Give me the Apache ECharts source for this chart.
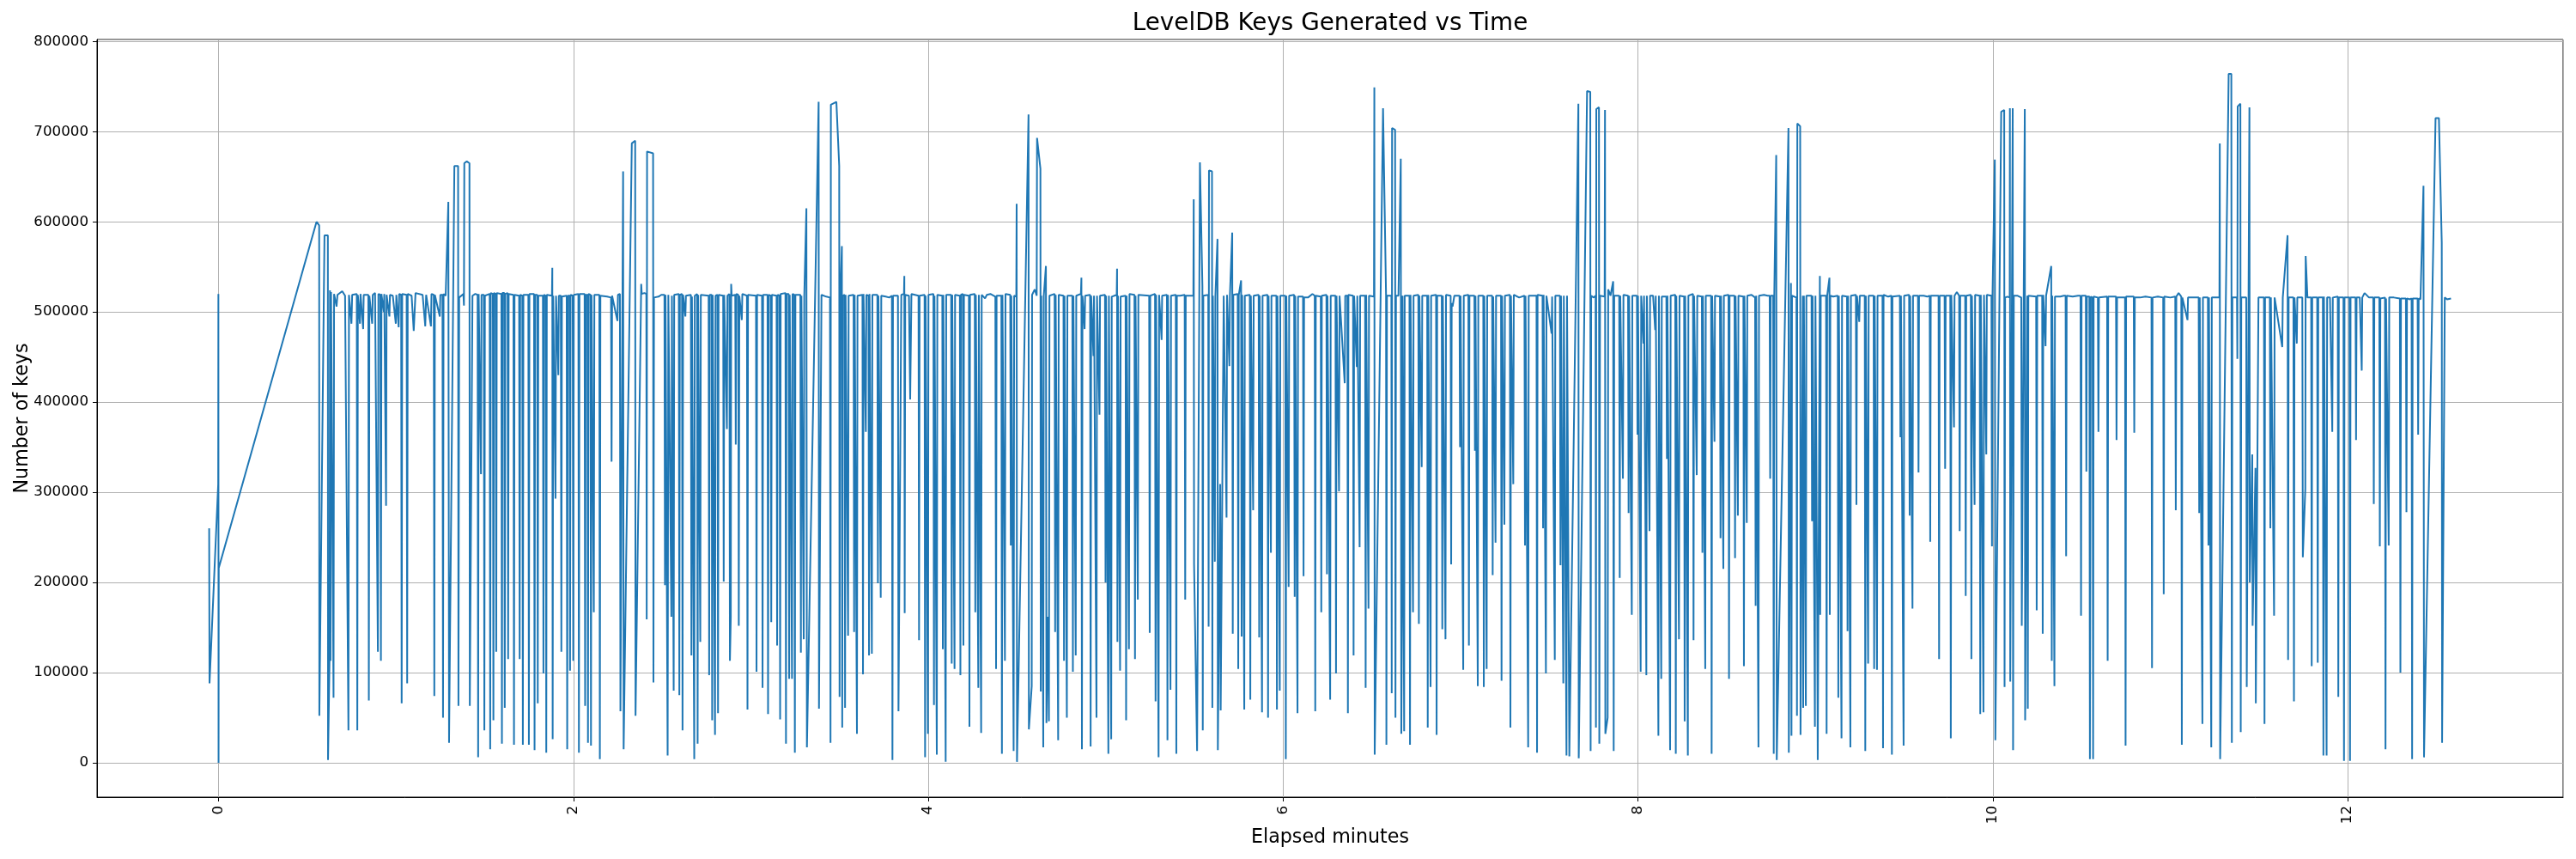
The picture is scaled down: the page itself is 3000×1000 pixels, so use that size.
<!DOCTYPE html>
<html><head><meta charset="utf-8">
<script src="https://cdn.jsdelivr.net/npm/echarts@6/dist/echarts.min.js"></script>
<style>html,body{margin:0;padding:0;background:#fff}#c{width:3000px;height:1000px}</style>
</head><body><div id="c"></div>
<script>
// Each pair: [elapsed minutes, number of keys]
const seg1 = [[-0.053,260000],[-0.051,88000],[-0.002,309000],[-0.001,520000],[0.000,0],[0.001,216000],[0.552,600000],[0.567,596000],[0.568,52000],[0.597,585000],[0.616,585000],[0.617,3000],[0.626,123000],[0.628,524000],[0.631,113000],[0.634,522000],[0.648,72000],[0.651,520000],[0.665,506000],[0.670,519000],[0.697,523000],[0.713,518000],[0.732,36000],[0.735,519000],[0.749,487000],[0.753,519000],[0.779,520000],[0.782,36000],[0.785,519000],[0.797,487000],[0.800,520000],[0.815,481000],[0.818,519000],[0.844,519000],[0.847,69000],[0.850,518000],[0.866,487000],[0.869,519000],[0.882,521000],[0.898,123000],[0.901,520000],[0.912,519000],[0.915,113000],[0.918,520000],[0.931,500000],[0.934,520000],[0.944,285000],[0.947,519000]];
const seg2 = [[0.963,495000],[0.966,519000],[0.982,518000],[0.999,487000],[1.002,519000],[1.015,483000],[1.018,520000],[1.029,519000],[1.032,66000],[1.035,520000],[1.060,519000],[1.063,88000],[1.066,520000],[1.088,518000],[1.100,479000],[1.110,521000],[1.150,519000],[1.165,484000],[1.170,519000],[1.197,484000],[1.200,520000],[1.213,519000],[1.216,74000],[1.219,519000],[1.247,495000],[1.250,519000],[1.262,519000],[1.265,50000],[1.268,520000],[1.280,518000],[1.295,622000],[1.299,22000],[1.329,662000],[1.350,662000],[1.352,63000],[1.356,516000],[1.380,520000],[1.383,507000],[1.385,665000],[1.399,667000],[1.414,665000],[1.416,63000],[1.431,518000],[1.447,520000],[1.460,519000],[1.463,6000],[1.466,520000],[1.479,320000],[1.482,519000],[1.495,519000],[1.498,36000],[1.501,518000],[1.528,520000],[1.531,15000],[1.534,521000],[1.546,520000],[1.549,47000],[1.552,521000],[1.562,520000],[1.565,123000],[1.568,521000],[1.594,520000],[1.597,21000],[1.600,521000],[1.610,521000],[1.613,61000],[1.616,520000],[1.629,521000],[1.632,115000],[1.635,520000],[1.662,519000],[1.665,20000],[1.668,519000],[1.694,518000],[1.697,115000],[1.700,519000],[1.712,518000],[1.715,20000],[1.718,519000],[1.746,519000],[1.749,20000],[1.752,520000],[1.778,520000],[1.781,14000],[1.784,519000],[1.796,519000],[1.799,66000],[1.802,518000],[1.828,518000],[1.831,99000],[1.834,519000],[1.844,518000],[1.847,11000],[1.850,519000],[1.879,518000],[1.881,549000],[1.883,26000],[1.886,518000],[1.899,293000],[1.902,518000],[1.915,430000],[1.918,518000],[1.929,518000],[1.932,123000],[1.935,517000],[1.962,518000],[1.965,15000],[1.968,518000],[1.978,518000],[1.981,102000],[1.984,519000],[1.996,518000],[1.999,113000],[2.002,519000]];
const seg3 = [[2.028,520000],[2.031,11000],[2.034,520000],[2.063,520000],[2.066,63000],[2.069,519000],[2.079,519000],[2.082,22000],[2.085,520000],[2.096,519000],[2.099,19000],[2.102,519000],[2.115,167000],[2.118,519000],[2.146,519000],[2.149,4000],[2.152,518000],[2.190,517000],[2.212,516000],[2.215,334000],[2.218,518000],[2.248,490000],[2.251,519000],[2.262,520000],[2.265,57000],[2.280,656000],[2.283,15000],[2.329,687000],[2.348,690000],[2.350,52000],[2.382,531000],[2.385,520000],[2.400,521000],[2.411,520000],[2.413,159000],[2.415,678000],[2.449,676000],[2.451,89000],[2.454,516000],[2.480,517000],[2.495,519000],[2.513,519000],[2.516,197000],[2.519,519000],[2.528,519000],[2.531,8000],[2.535,519000],[2.552,162000],[2.555,518000],[2.562,519000],[2.565,80000],[2.568,519000],[2.594,520000],[2.597,75000],[2.600,519000],[2.612,520000],[2.615,36000],[2.618,519000],[2.631,495000],[2.634,518000],[2.662,519000],[2.665,119000],[2.668,517000],[2.681,4000],[2.684,518000],[2.697,520000],[2.700,21000],[2.703,519000],[2.715,134000],[2.718,519000],[2.762,518000],[2.765,97000],[2.768,519000],[2.779,519000],[2.782,47000],[2.785,519000],[2.798,31000],[2.801,518000],[2.812,519000],[2.815,55000],[2.818,519000],[2.844,518000],[2.847,201000],[2.850,519000],[2.865,370000],[2.868,518000],[2.879,520000],[2.882,113000],[2.887,162000],[2.889,531000],[2.892,518000],[2.912,519000],[2.915,353000],[2.918,520000],[2.929,519000],[2.932,152000],[2.935,518000],[2.949,491000],[2.952,520000],[2.978,518000],[2.981,59000],[2.984,519000],[3.029,518000],[3.032,101000],[3.035,519000],[3.063,518000],[3.066,83000],[3.069,519000]];
const seg4 = [[3.094,519000],[3.097,54000],[3.100,519000],[3.112,518000],[3.115,156000],[3.118,519000],[3.145,518000],[3.148,130000],[3.151,519000],[3.162,518000],[3.165,48000],[3.168,520000],[3.195,521000],[3.198,21000],[3.201,520000],[3.213,520000],[3.216,93000],[3.219,519000],[3.232,93000],[3.235,520000],[3.245,519000],[3.248,11000],[3.251,519000],[3.279,519000],[3.282,122000],[3.285,518000],[3.298,137000],[3.301,517000],[3.313,615000],[3.316,17000],[3.382,733000],[3.384,60000],[3.398,519000],[3.425,517000],[3.446,516000],[3.449,22000],[3.451,730000],[3.482,733000],[3.498,662000],[3.500,73000],[3.504,516000],[3.513,573000],[3.515,39000],[3.518,518000],[3.528,519000],[3.531,61000],[3.534,519000],[3.548,141000],[3.551,518000],[3.579,519000],[3.582,145000],[3.585,519000],[3.598,32000],[3.601,518000],[3.629,519000],[3.632,98000],[3.635,520000],[3.648,367000],[3.651,519000],[3.663,518000],[3.666,119000],[3.669,520000],[3.682,121000],[3.685,519000],[3.713,519000],[3.716,199000],[3.719,518000],[3.732,183000],[3.735,518000],[3.760,517000],[3.780,516000],[3.795,518000],[3.798,3000],[3.801,518000],[3.829,518000],[3.832,57000],[3.848,519000],[3.863,520000],[3.865,540000],[3.867,166000],[3.870,519000],[3.891,518000],[3.898,403000],[3.905,520000],[3.945,518000],[3.948,136000],[3.951,518000],[3.979,519000],[3.982,6000],[3.985,518000],[3.998,32000],[4.001,519000],[4.029,520000],[4.032,64000],[4.035,518000],[4.048,9000],[4.051,519000],[4.079,518000],[4.082,126000],[4.085,519000],[4.098,1000],[4.101,519000],[4.129,519000],[4.132,110000],[4.135,519000]];
const seg5 = [[4.148,104000],[4.151,519000],[4.178,518000],[4.181,97000],[4.184,519000],[4.195,520000],[4.198,130000],[4.201,519000],[4.229,518000],[4.232,40000],[4.235,519000],[4.262,520000],[4.265,167000],[4.268,519000],[4.282,83000],[4.285,519000],[4.298,33000],[4.301,519000],[4.320,515000],[4.330,519000],[4.350,520000],[4.378,517000],[4.382,104000],[4.385,518000],[4.412,518000],[4.415,10000],[4.418,519000],[4.432,113000],[4.435,520000],[4.462,519000],[4.465,241000],[4.468,518000],[4.481,13000],[4.484,518000],[4.496,517000],[4.498,620000],[4.500,1000],[4.565,719000],[4.567,37000],[4.583,85000],[4.585,519000],[4.600,525000],[4.611,518000],[4.613,693000],[4.632,659000],[4.634,79000],[4.637,518000],[4.648,17000],[4.651,518000],[4.663,551000],[4.666,44000],[4.673,162000],[4.680,46000],[4.683,518000],[4.712,520000],[4.715,145000],[4.718,519000],[4.732,25000],[4.735,519000],[4.762,518000],[4.765,113000],[4.768,518000],[4.781,50000],[4.784,518000],[4.812,518000],[4.815,101000],[4.818,518000],[4.831,119000],[4.834,518000],[4.860,520000],[4.863,538000],[4.866,15000],[4.869,518000],[4.881,481000],[4.884,518000],[4.912,519000],[4.915,18000],[4.918,518000],[4.931,451000],[4.934,518000],[4.948,50000],[4.951,518000],[4.965,386000],[4.968,518000],[4.996,519000],[4.999,200000],[5.002,518000],[5.015,10000],[5.018,518000],[5.031,26000],[5.034,517000],[5.062,519000],[5.064,548000],[5.066,134000],[5.069,518000],[5.081,102000],[5.084,517000],[5.112,518000],[5.115,47000],[5.118,518000],[5.131,126000],[5.134,520000],[5.162,519000],[5.165,115000],[5.168,518000],[5.181,181000],[5.184,519000]];
const seg6 = [[5.245,518000],[5.248,144000],[5.251,518000],[5.278,520000],[5.281,68000],[5.284,519000],[5.298,6000],[5.301,519000],[5.315,469000],[5.318,518000],[5.345,519000],[5.348,25000],[5.351,519000],[5.365,81000],[5.368,518000],[5.395,519000],[5.398,10000],[5.401,518000],[5.420,518000],[5.445,519000],[5.448,181000],[5.451,518000],[5.494,518000],[5.496,625000],[5.498,220000],[5.515,13000],[5.531,666000],[5.545,528000],[5.547,36000],[5.550,518000],[5.578,519000],[5.580,151000],[5.582,657000],[5.599,656000],[5.601,61000],[5.604,518000],[5.615,223000],[5.618,517000],[5.630,581000],[5.632,14000],[5.645,309000],[5.648,58000],[5.665,518000],[5.681,272000],[5.684,519000],[5.697,440000],[5.700,518000],[5.713,588000],[5.716,143000],[5.719,519000],[5.744,520000],[5.747,104000],[5.750,519000],[5.763,535000],[5.766,140000],[5.769,519000],[5.781,59000],[5.784,518000],[5.812,519000],[5.815,70000],[5.818,518000],[5.831,280000],[5.834,518000],[5.862,519000],[5.865,139000],[5.868,518000],[5.881,56000],[5.884,518000],[5.912,519000],[5.915,50000],[5.918,518000],[5.931,233000],[5.934,518000],[5.962,518000],[5.965,59000],[5.968,518000],[5.981,80000],[5.984,518000],[6.012,518000],[6.015,4000],[6.018,518000],[6.031,195000],[6.034,518000],[6.062,519000],[6.065,184000],[6.068,518000],[6.081,55000],[6.084,517000],[6.112,517000],[6.115,207000],[6.118,516000],[6.140,516000],[6.165,520000],[6.178,518000],[6.181,57000],[6.184,518000],[6.212,517000],[6.215,167000],[6.218,518000],[6.244,519000],[6.247,209000],[6.250,518000],[6.265,70000],[6.268,518000]];
const seg7 = [[6.295,518000],[6.298,99000],[6.301,518000],[6.315,301000],[6.318,518000],[6.347,421000],[6.350,518000],[6.362,518000],[6.365,55000],[6.368,519000],[6.394,518000],[6.397,119000],[6.400,518000],[6.415,439000],[6.418,518000],[6.431,239000],[6.434,518000],[6.462,518000],[6.465,83000],[6.468,519000],[6.481,171000],[6.484,518000],[6.512,517000],[6.514,749000],[6.516,9000],[6.563,726000],[6.580,519000],[6.582,20000],[6.585,518000],[6.610,518000],[6.612,77000],[6.614,704000],[6.631,702000],[6.633,50000],[6.636,518000],[6.650,518000],[6.663,670000],[6.666,32000],[6.670,167000],[6.673,518000],[6.679,518000],[6.682,35000],[6.685,518000],[6.712,518000],[6.715,20000],[6.718,519000],[6.732,167000],[6.735,518000],[6.762,519000],[6.765,154000],[6.768,518000],[6.781,328000],[6.784,518000],[6.812,518000],[6.815,39000],[6.818,519000],[6.831,84000],[6.834,518000],[6.862,519000],[6.865,31000],[6.868,518000],[6.894,518000],[6.897,148000],[6.900,518000],[6.915,137000],[6.918,519000],[6.944,518000],[6.947,220000],[6.950,510000],[6.955,506000],[6.965,518000],[6.994,518000],[6.997,350000],[7.000,518000],[7.015,103000],[7.018,518000],[7.044,519000],[7.047,130000],[7.050,518000],[7.078,518000],[7.081,346000],[7.084,518000],[7.097,85000],[7.100,518000],[7.128,518000],[7.131,84000],[7.134,518000],[7.147,104000],[7.150,518000],[7.178,518000],[7.181,208000],[7.184,517000],[7.197,244000],[7.200,518000],[7.228,518000],[7.231,91000],[7.234,518000],[7.247,264000],[7.250,518000],[7.278,519000],[7.281,39000],[7.284,518000],[7.297,309000],[7.300,519000],[7.330,516000]];
const seg8 = [[7.360,518000],[7.363,241000],[7.366,518000],[7.381,17000],[7.384,518000],[7.428,518000],[7.431,11000],[7.434,519000],[7.462,518000],[7.465,260000],[7.468,519000],[7.481,99000],[7.484,518000],[7.513,476000],[7.516,517000],[7.531,114000],[7.534,518000],[7.560,518000],[7.563,219000],[7.566,518000],[7.579,88000],[7.582,518000],[7.597,8000],[7.600,518000],[7.613,7000],[7.664,731000],[7.666,5000],[7.713,745000],[7.731,744000],[7.733,13000],[7.736,518000],[7.750,516000],[7.761,518000],[7.763,39000],[7.765,725000],[7.780,727000],[7.782,21000],[7.786,518000],[7.812,517000],[7.814,724000],[7.816,32000],[7.829,50000],[7.832,525000],[7.845,518000],[7.860,534000],[7.863,13000],[7.866,518000],[7.894,518000],[7.897,205000],[7.900,518000],[7.915,315000],[7.918,519000],[7.944,518000],[7.947,277000],[7.950,518000],[7.965,164000],[7.968,518000],[7.994,518000],[7.997,364000],[8.000,518000],[8.015,101000],[8.018,518000],[8.031,465000],[8.034,518000],[8.047,97000],[8.050,518000],[8.065,257000],[8.068,518000],[8.085,518000],[8.097,480000],[8.100,518000],[8.115,30000],[8.118,518000],[8.131,93000],[8.134,517000],[8.160,517000],[8.163,337000],[8.166,518000],[8.181,14000],[8.184,518000],[8.210,519000],[8.213,10000],[8.216,518000],[8.231,137000],[8.234,518000],[8.260,517000],[8.263,46000],[8.266,518000],[8.281,8000],[8.284,518000],[8.310,520000],[8.313,136000],[8.316,518000],[8.331,319000],[8.334,518000],[8.360,517000],[8.363,233000],[8.366,518000],[8.379,104000],[8.382,518000]];
const seg9 = [[8.412,518000],[8.415,10000],[8.418,518000],[8.431,356000],[8.434,518000],[8.462,517000],[8.465,249000],[8.468,518000],[8.481,215000],[8.484,518000],[8.510,519000],[8.513,93000],[8.516,518000],[8.544,518000],[8.547,227000],[8.550,518000],[8.563,274000],[8.566,518000],[8.594,517000],[8.597,107000],[8.600,518000],[8.613,266000],[8.616,518000],[8.640,519000],[8.660,516000],[8.663,174000],[8.666,518000],[8.679,17000],[8.682,518000],[8.710,519000],[8.730,518000],[8.742,518000],[8.745,315000],[8.748,518000],[8.762,518000],[8.765,10000],[8.768,518000],[8.779,674000],[8.782,3000],[8.848,704000],[8.850,11000],[8.862,532000],[8.865,30000],[8.868,518000],[8.893,516000],[8.896,52000],[8.898,709000],[8.914,706000],[8.916,31000],[8.929,518000],[8.931,61000],[8.935,518000],[8.946,63000],[8.949,518000],[8.978,518000],[8.981,268000],[8.984,518000],[8.997,40000],[9.000,518000],[9.008,518000],[9.010,164000],[9.013,3000],[9.025,540000],[9.027,164000],[9.030,518000],[9.060,518000],[9.063,32000],[9.066,518000],[9.079,538000],[9.081,164000],[9.084,518000],[9.100,517000],[9.126,518000],[9.129,72000],[9.132,518000],[9.147,27000],[9.150,518000],[9.178,517000],[9.181,146000],[9.184,518000],[9.197,17000],[9.200,518000],[9.228,519000],[9.231,286000],[9.234,518000],[9.247,489000],[9.250,518000],[9.278,518000],[9.281,13000],[9.284,518000],[9.297,110000],[9.300,518000],[9.328,518000],[9.331,104000],[9.334,518000],[9.347,103000],[9.350,518000],[9.378,518000],[9.381,16000],[9.384,519000],[9.410,517000],[9.428,518000],[9.431,9000],[9.434,517000]];
const seg10 = [[9.476,518000],[9.479,361000],[9.482,518000],[9.497,19000],[9.500,518000],[9.528,519000],[9.531,274000],[9.534,518000],[9.547,171000],[9.550,518000],[9.578,518000],[9.581,322000],[9.584,518000],[9.610,518000],[9.630,517000],[9.644,518000],[9.647,245000],[9.650,518000],[9.680,518000],[9.694,518000],[9.697,115000],[9.700,518000],[9.728,518000],[9.731,326000],[9.734,518000],[9.760,518000],[9.763,27000],[9.766,519000],[9.781,372000],[9.784,518000],[9.797,522000],[9.810,518000],[9.813,257000],[9.816,518000],[9.844,518000],[9.847,185000],[9.850,518000],[9.876,519000],[9.879,115000],[9.882,518000],[9.897,286000],[9.900,519000],[9.926,518000],[9.929,54000],[9.932,519000],[9.947,56000],[9.950,519000],[9.963,342000],[9.966,519000],[9.992,518000],[9.995,240000],[9.998,519000],[10.011,669000],[10.014,25000],[10.047,722000],[10.064,724000],[10.066,84000],[10.069,516000],[10.082,517000],[10.095,516000],[10.096,726000],[10.098,90000],[10.112,726000],[10.114,14000],[10.118,518000],[10.140,518000],[10.160,516000],[10.163,152000],[10.180,725000],[10.182,47000],[10.194,518000],[10.197,60000],[10.200,518000],[10.244,517000],[10.247,169000],[10.250,518000],[10.278,518000],[10.281,143000],[10.284,519000],[10.297,462000],[10.300,518000],[10.329,551000],[10.332,113000],[10.335,518000],[10.347,85000],[10.350,517000],[10.380,517000],[10.400,518000],[10.410,518000],[10.413,229000],[10.416,518000],[10.450,517000],[10.480,518000],[10.494,518000],[10.497,163000],[10.500,518000],[10.524,518000],[10.527,323000],[10.530,517000]];
const seg11 = [[10.544,517000],[10.547,4000],[10.552,517000],[10.562,516000],[10.565,4000],[10.568,517000],[10.592,516000],[10.595,367000],[10.598,516000],[10.644,517000],[10.647,113000],[10.650,517000],[10.694,517000],[10.697,358000],[10.700,516000],[10.745,516000],[10.748,19000],[10.751,517000],[10.794,517000],[10.797,366000],[10.800,516000],[10.830,516000],[10.860,517000],[10.894,516000],[10.897,105000],[10.900,516000],[10.930,517000],[10.960,516000],[10.963,187000],[10.966,517000],[11.000,516000],[11.028,517000],[11.031,280000],[11.034,517000],[11.047,521000],[11.062,517000],[11.065,20000],[11.068,516000],[11.097,491000],[11.100,516000],[11.130,516000],[11.160,516000],[11.163,277000],[11.166,516000],[11.181,43000],[11.184,516000],[11.212,516000],[11.215,241000],[11.218,516000],[11.231,17000],[11.234,516000],[11.260,516000],[11.277,516000],[11.279,687000],[11.281,4000],[11.329,764000],[11.344,764000],[11.347,22000],[11.350,516000],[11.376,516000],[11.378,448000],[11.380,728000],[11.395,731000],[11.397,34000],[11.400,516000],[11.428,516000],[11.431,84000],[11.446,727000],[11.448,200000],[11.462,342000],[11.464,152000],[11.480,327000],[11.482,66000],[11.497,516000],[11.528,516000],[11.531,43000],[11.534,516000],[11.561,516000],[11.564,260000],[11.567,516000],[11.585,163000],[11.588,516000]];
const seg12 = [[11.631,461000],[11.634,516000],[11.661,585000],[11.664,114000],[11.667,516000],[11.694,516000],[11.697,68000],[11.700,516000],[11.713,465000],[11.716,516000],[11.744,516000],[11.747,228000],[11.761,304000],[11.763,562000],[11.773,516000],[11.794,516000],[11.797,107000],[11.800,516000],[11.828,516000],[11.831,111000],[11.834,516000],[11.860,516000],[11.863,8000],[11.866,517000],[11.881,8000],[11.884,516000],[11.900,516000],[11.913,367000],[11.916,516000],[11.944,517000],[11.947,73000],[11.950,516000],[11.976,516000],[11.979,2000],[11.982,516000],[12.010,516000],[12.013,2000],[12.016,516000],[12.044,516000],[12.047,358000],[12.050,516000],[12.068,516000],[12.079,435000],[12.082,516000],[12.095,521000],[12.120,516000],[12.144,516000],[12.147,287000],[12.150,516000],[12.178,516000],[12.181,240000],[12.184,515000],[12.210,516000],[12.213,15000],[12.216,515000],[12.231,241000],[12.234,516000],[12.260,516000],[12.294,515000],[12.297,100000],[12.300,515000],[12.328,515000],[12.331,278000],[12.334,515000],[12.350,514000],[12.360,515000],[12.363,4000],[12.366,515000],[12.394,515000],[12.397,364000],[12.400,515000],[12.410,514000],[12.427,640000],[12.430,6000],[12.495,715000],[12.514,715000],[12.530,577000],[12.532,22000],[12.547,516000],[12.560,514000],[12.582,515000]];

const titleText = 'LevelDB Keys Generated vs Time';
const xName = 'Elapsed minutes';
const yName = 'Number of keys';
const xTickStep = 2;
const yTickStep = 100000;

const samples = [].concat(seg1, seg2, seg3, seg4, seg5, seg6, seg7, seg8, seg9, seg10, seg11, seg12);

const FONT = '"DejaVu Sans", "Liberation Sans", sans-serif';
const chart = echarts.init(document.getElementById('c'), null, {renderer: 'canvas', width: 3000, height: 1000});
const GL = 113, GR = 15, GT = 46, GB = 72;
chart.setOption({
  animation: false,
  backgroundColor: '#ffffff',
  grid: {left: GL, right: GR, top: GT, bottom: GB, show: true, borderColor: '#000', borderWidth: 1, backgroundColor: 'transparent', containLabel: false},
  xAxis: {
    type: 'value', min: -0.685, max: 13.214, minInterval: xTickStep, maxInterval: xTickStep, splitNumber: 7,
    axisLine: {show: true, onZero: false, lineStyle: {color: '#000', width: 1}},
    axisTick: {show: true, length: 5, lineStyle: {color: '#000', width: 1}},
    axisLabel: {rotate: 90, fontSize: 16.7, color: '#000', fontFamily: FONT, margin: 10, showMinLabel: false, showMaxLabel: false, formatter: v => String(v)},
    splitLine: {show: true, lineStyle: {color: '#b0b0b0', width: 1}}
  },
  yAxis: {
    type: 'value', min: -38200, max: 802200, minInterval: yTickStep, maxInterval: yTickStep, splitNumber: 8,
    axisLine: {show: true, onZero: false, lineStyle: {color: '#000', width: 1}},
    axisTick: {show: true, length: 5, lineStyle: {color: '#000', width: 1}},
    axisLabel: {fontSize: 16.7, color: '#000', fontFamily: FONT, margin: 10, showMinLabel: false, showMaxLabel: false, formatter: v => String(v)},
    splitLine: {show: true, lineStyle: {color: '#b0b0b0', width: 1}}
  },
  series: [{
    type: 'line', data: samples, showSymbol: false, symbol: 'none',
    lineStyle: {color: '#1f77b4', width: 2}, clip: true, z: 3
  }],
  graphic: [
    {type: 'text', x: (GL + 3000 - GR) / 2, y: 28, style: {text: titleText, font: '27.8px ' + FONT, fill: '#000', textAlign: 'center', textVerticalAlign: 'middle'}},
    {type: 'text', x: (GL + 3000 - GR) / 2, y: 975, style: {text: xName, font: '22.2px ' + FONT, fill: '#000', textAlign: 'center', textVerticalAlign: 'middle'}},
    {type: 'text', x: 26, y: (GT + 1000 - GB) / 2, rotation: Math.PI / 2, style: {text: yName, font: '22.2px ' + FONT, fill: '#000', textAlign: 'center', textVerticalAlign: 'middle'}}
  ]
});
</script>
</body></html>
